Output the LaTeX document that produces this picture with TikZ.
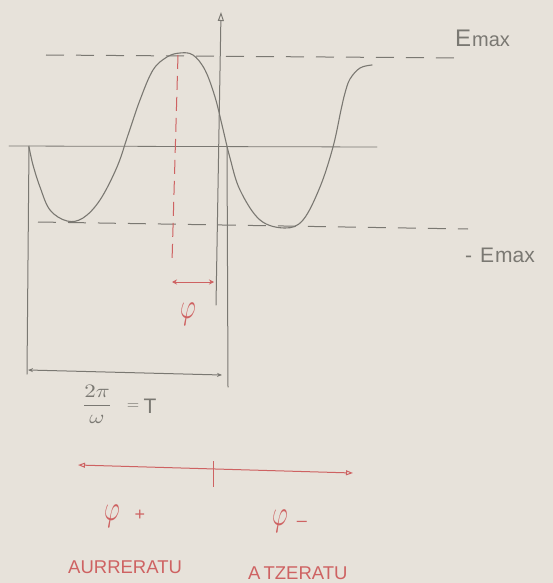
\documentclass[tikz,border=0pt]{standalone}
\usepackage{fontspec}
\setsansfont{Liberation Sans}
\usetikzlibrary{arrows.meta}
\definecolor{paper}{RGB}{231,226,218}
\definecolor{pencil}{RGB}{122,120,114}
\definecolor{redpen}{RGB}{206,98,98}
\newcommand{\bigphi}{\scalebox{2.4}[3.6]{$\varphi$}}
\begin{document}
\begin{tikzpicture}[x=1pt,y=-1pt,
  pen/.style={draw=pencil, line width=1pt, line cap=round},
  dashpen/.style={pen, line cap=butt, dash pattern=on 18pt off 12pt},
  reddash/.style={draw=redpen, line width=1pt, dash pattern=on 14pt off 7pt},
  redline/.style={draw=redpen, line width=1pt},
  lbl/.style={text=pencil, font=\sffamily, inner sep=0pt},
  rlbl/.style={text=redpen, font=\sffamily, inner sep=0pt},
  phil/.style={text=redpen, inner sep=0pt}]
\fill[paper] (0,0) rectangle (553,583);
\useasboundingbox (0,0) rectangle (553,583);

% coordinates
\coordinate (axB) at (216,305);
\coordinate (axT) at (221,12);
\coordinate (zL) at (9,146);
\coordinate (zR) at (377,147);
\coordinate (vLt) at (29,146);
\coordinate (vLb) at (27,374);
\coordinate (vRt) at (227,147);
\coordinate (vRb) at (228,387);
\coordinate (tdL) at (46,55);
\coordinate (tdR) at (465,58);
\coordinate (bdL) at (38,222);
\coordinate (bdR) at (468,229);
\coordinate (rdT) at (178,55);
\coordinate (rdB) at (172,262);
\coordinate (phL) at (172,282);
\coordinate (phR) at (214,282);
\coordinate (TL) at (28,370);
\coordinate (TR) at (222,375);
\coordinate (arL) at (78,465);
\coordinate (arR) at (353,473);
\coordinate (tkT) at (213,461);
\coordinate (tkB) at (213,487);

% axes and guide lines
\draw[pen, -{Triangle[open,length=9pt,width=6pt]}] (axB) -- (axT);
\draw[pen, line width=0.8pt] (zL) -- (zR);
\draw[pen] (vLt) -- (vLb);
\draw[pen] (vRt) -- (vRb);
\draw[dashpen] (tdL) -- (tdR);
\draw[dashpen] (bdL) -- (bdR);
\draw[reddash] (rdT) -- (rdB);

% wave
\draw[pen, line width=1.1pt] plot[smooth, tension=0.6] coordinates {
 (29,147) (33,165) (40,187) (50,210) (67,221) (83,218) (100,200) (117,167)
 (128,135) (140,100) (153,70) (167,57) (180,53) (193,55) (205,70) (215,97)
 (222,125) (230,158) (240,190) (260,220) (285,228) (303,220) (320,187)
 (333,147) (341,110) (345,93) (350,79) (360,68) (372,65)};

% phase arrow
\draw[redline, {Stealth[length=5pt,width=5pt]}-{Stealth[length=5pt,width=5pt]}] (phL) -- (phR);
% period arrow
\draw[pen, {Stealth[length=5pt,width=4pt]}-{Stealth[length=5pt,width=4pt]}] (TL) -- (TR);
% bottom red arrow
\draw[redline, {Triangle[open,length=7pt,width=5pt]}-{Triangle[open,length=7pt,width=5pt]}] (arL) -- (arR);
\draw[redline] (tkT) -- (tkB);

% labels
\node[lbl, anchor=base west] (emax) at (455,47)
  {{\fontsize{24}{24}\selectfont E}\hspace{1pt}{\fontsize{20}{20}\selectfont max}};
\node[lbl, anchor=base west] (memax) at (465,262)
  {\fontsize{21}{21}\selectfont -\hspace{8pt}E\hspace{1pt}max};
\node[phil] (phi) at (188,314) {\bigphi};
\node[text=pencil, inner sep=0pt] (frac) at (97,404)
  {\scalebox{2.3}[1.9]{$\displaystyle\frac{2\pi}{\omega}$}};
\node[text=pencil, inner sep=0pt] (eq) at (133,407)
  {\scalebox{1.6}{$=$}};
\node[lbl, anchor=base] (T) at (150,413) {\fontsize{21}{21}\selectfont T};
\node[phil] (phip) at (112,516) {\bigphi};
\node[rlbl] (plus) at (140,515) {\fontsize{18}{18}\selectfont +};
\node[phil] (phim) at (280,521) {\bigphi};
\node[rlbl] (minus) at (302,524) {\fontsize{18}{18}\selectfont –};
\node[rlbl, anchor=base west] (aur) at (68,573)
  {\fontsize{18.5}{18.5}\selectfont AURRERATU};
\node[rlbl, anchor=base west] (atz) at (248,579)
  {\fontsize{18.5}{18.5}\selectfont A\,TZERATU};
\end{tikzpicture}
\end{document}
